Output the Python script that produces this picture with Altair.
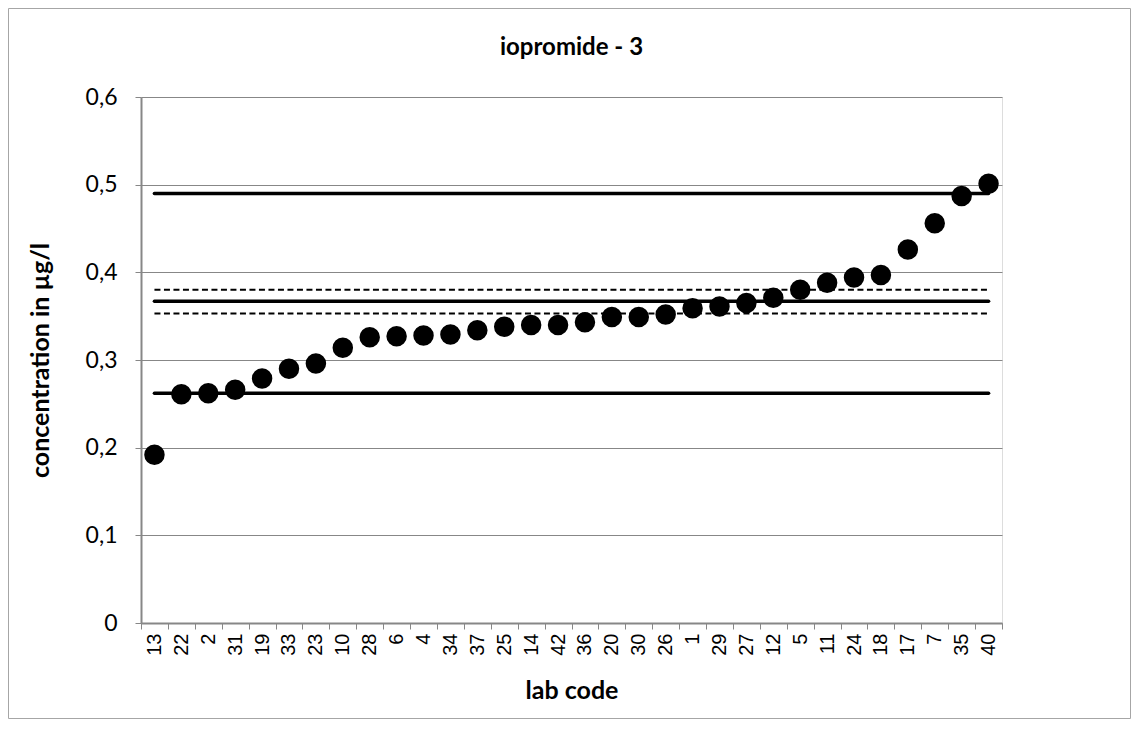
import altair as alt
import pandas as pd

# ---- data ----
labs = ["13", "22", "2", "31", "19", "33", "23", "10", "28", "6", "4", "34", "37", "25",
        "14", "42", "36", "20", "30", "26", "1", "29", "27", "12", "5", "11", "24", "18",
        "17", "7", "35", "40"]
conc = [0.192, 0.261, 0.262, 0.266, 0.279, 0.290, 0.296, 0.314, 0.326, 0.327, 0.328,
        0.329, 0.334, 0.338, 0.340, 0.340, 0.343, 0.349, 0.349, 0.352, 0.359, 0.361,
        0.365, 0.371, 0.380, 0.388, 0.394, 0.397, 0.426, 0.456, 0.487, 0.501]
assigned_value = 0.367
tolerance_upper = 0.490
tolerance_lower = 0.262
uncertainty_upper = 0.380
uncertainty_lower = 0.353
y_ticks = [0, 0.1, 0.2, 0.3, 0.4, 0.5, 0.6]
chart_title = ["iopromide - 3"]

pts = pd.DataFrame({"lab": labs, "conc": conc})

solid_rows = []
for name, v in [("upper", tolerance_upper), ("assigned", assigned_value), ("lower", tolerance_lower)]:
    for l in labs:
        solid_rows.append({"lab": l, "val": v, "series": name})
solid = pd.DataFrame(solid_rows)

dash_rows = []
for name, v in [("u_up", uncertainty_upper), ("u_low", uncertainty_lower)]:
    for l in labs:
        dash_rows.append({"lab": l, "val": v, "series": name})
dashed = pd.DataFrame(dash_rows)

GRID = "#878787"
TITLE_FONT = "Lato"
W, H = 861, 526

xscale = alt.Scale(type="band", paddingInner=0, paddingOuter=0)
yscale = alt.Scale(domain=[0, 0.6], nice=False, zero=True)

xaxis = alt.Axis(
    title="lab code", labelAngle=-90, labelAlign="right", labelBaseline="middle",
    labelFont="Liberation Sans", labelFontSize=20, labelColor="#000000",
    labelPadding=4, tickBand="extent", tickSize=6, tickColor=GRID,
    domainColor=GRID, domainWidth=2, grid=False,
    titleFont=TITLE_FONT, titleFontSize=25, titleFontWeight="bold",
    titleColor="#000000", titleX=W / 2, titleY=67, titleAlign="center",
    titleBaseline="middle",
)
yaxis = alt.Axis(
    title="concentration in µg/l", values=y_ticks,
    labelExpr="datum.value == 0 ? '0' : replace(format(datum.value, '.1f'), '.', ',')",
    labelFont=TITLE_FONT, labelFontSize=23, labelColor="#000000", labelPadding=18,
    tickSize=6, tickColor=GRID, domainColor=GRID, domainWidth=2,
    grid=True, gridColor=GRID, gridWidth=1.2,
    titleFont=TITLE_FONT, titleFontSize=25, titleFontWeight="bold",
    titleColor="#000000", titleX=-101, titleY=H / 2, titleAngle=-90,
    titleAlign="center", titleBaseline="middle",
)

solid_layer = alt.Chart(solid).mark_line(
    color="#000000", strokeWidth=3.6, strokeCap="round"
).encode(
    x=alt.X("lab:N", sort=labs, scale=xscale, axis=xaxis),
    y=alt.Y("val:Q", scale=yscale, axis=yaxis),
    detail="series:N",
)

dash_layer = alt.Chart(dashed).mark_line(
    color="#000000", strokeWidth=2, strokeDash=[6, 3.5]
).encode(
    x=alt.X("lab:N", sort=labs),
    y=alt.Y("val:Q"),
    detail="series:N",
)

point_layer = alt.Chart(pts).mark_circle(
    color="#000000", size=420, opacity=1
).encode(
    x=alt.X("lab:N", sort=labs),
    y=alt.Y("conc:Q"),
)

frame = alt.Chart(pd.DataFrame({"a": [0]})).mark_rect(
    fill=None, stroke="#a6a6a6", strokeWidth=1
).encode(
    x=alt.value(-132.5), x2=alt.value(W + 128.5),
    y=alt.value(-88.5), y2=alt.value(H + 95.5),
)

title_layer = alt.Chart(pd.DataFrame({"t": chart_title})).mark_text(
    font=TITLE_FONT, fontSize=24, fontWeight="bold", color="#000000",
    align="center", baseline="middle",
).encode(
    text="t:N", x=alt.value(W / 2), y=alt.value(-49),
)

chart = alt.layer(frame, solid_layer, dash_layer, point_layer, title_layer).properties(
    width=W, height=H,
    autosize=alt.AutoSizeParams(type="none"),
    padding={"left": 133, "top": 89, "right": 129, "bottom": 102},
).configure_view(
    stroke=GRID, strokeWidth=1.5
).configure(background="#ffffff")

chart.save("out.html", embed_options={"renderer": "svg", "actions": False})
